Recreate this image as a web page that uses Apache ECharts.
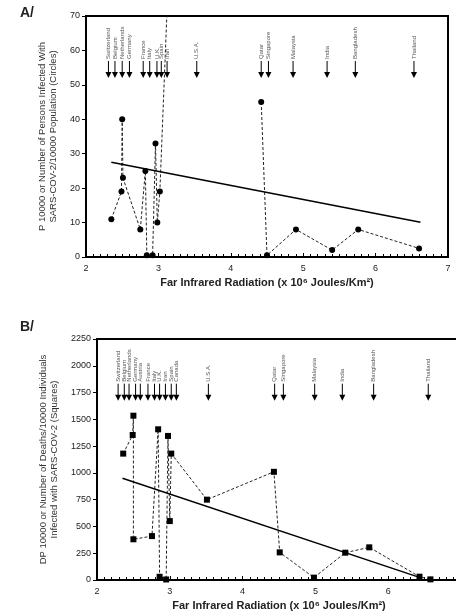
<!DOCTYPE html>
<html>
<head>
<meta charset="utf-8">
<script src="https://cdn.jsdelivr.net/npm/echarts@6/dist/echarts.min.js"></script>
<style>
  html, body { margin: 0; padding: 0; background: #fff; }
  #chart { width: 456px; height: 616px; }
</style>
</head>
<body>
<div id="chart"></div>
<script>
// panel A: persons infected per 10000 (circles)
var infectedA = [
  [2.35, 11], [2.49, 19], [2.5, 40], [2.51, 23], [2.75, 8], [2.82, 25],
  [2.84, 0.5], [2.92, 0.5], [2.96, 33], [2.985, 10], [3.02, 19], [3.12, 72],
  null,
  [4.42, 45], [4.5, 0.5], [4.9, 8], [5.4, 2], [5.76, 8], [6.6, 2.5]
]
var trendA = [[2.35, 27.5], [6.62, 10.1]]
var arrowXA = [2.31, 2.40, 2.50, 2.60, 2.79, 2.88, 2.98, 3.04, 3.12, 3.53, 4.42, 4.52, 4.86, 5.33, 5.72, 6.53]
var arrowNamesA = ['Switzerland', 'Belgium', 'Netherlands', 'Germany', 'France', 'Italy', 'U.K.', 'Spain', 'Iran',
  'U.S.A.', 'Qatar', 'Singapore', 'Malaysia', 'India', 'Bangladesh', 'Thailand']

// panel B: deaths per 10000 infected (squares)
var deathsB = [
  [2.36, 1180], [2.49, 1354], [2.5, 1534], [2.5, 380], [2.755, 410], [2.84, 1407],
  [2.86, 30], [2.95, 5], [2.975, 1345], [3.0, 550], [3.02, 1180], [3.51, 750],
  [4.43, 1010], [4.51, 258], [4.98, 22], [5.41, 255], [5.74, 305], [6.43, 31], [6.58, 6]
]
var trendB = [[2.35, 950], [6.45, 20]]
var arrowXB = [2.29, 2.375, 2.44, 2.53, 2.595, 2.70, 2.79, 2.86, 2.94, 3.02, 3.09, 3.53, 4.44, 4.56, 4.99, 5.37, 5.80, 6.55]
var arrowNamesB = ['Switzerland', 'Belgium', 'Netherlands', 'Germany', 'Austria', 'France', 'Italy', 'U.K.', 'Iran',
  'Spain', 'Canada', 'U.S.A.', 'Qatar', 'Singapore', 'Malaysia', 'India', 'Bangladesh', 'Thailand']

var yTicksA = [0, 70, 10]
var yTicksB = [0, 2250, 250]
var xTicks = [2, 7, 1]

var font = 'Liberation Sans, Arial, sans-serif'
var xName = 'Far Infrared Radiation (x 10\u2076 Joules/Km\u00b2)'

function arrowRenderer(names) {
  return function (params, api) {
    var p = api.coord([api.value(0), api.value(1)])
    return {
      type: 'group',
      children: [
        { type: 'line', shape: { x1: p[0], y1: p[1] - 17, x2: p[0], y2: p[1] - 4 }, style: { stroke: '#000', lineWidth: 1 } },
        { type: 'polygon', shape: { points: [[p[0] - 3, p[1] - 6], [p[0] + 3, p[1] - 6], [p[0], p[1]]] }, style: { fill: '#000' } },
        {
          type: 'text', x: p[0], y: p[1] - 19, rotation: Math.PI / 2,
          style: { text: names[params.dataIndex], fontSize: 6, fontFamily: font, fill: '#555', align: 'left', verticalAlign: 'middle' }
        }
      ]
    }
  }
}

function xAxisCfg(idx, gap) {
  return {
    gridIndex: idx, type: 'value', min: xTicks[0], max: xTicks[1], interval: xTicks[2],
    name: xName, nameLocation: 'middle', nameGap: gap,
    nameTextStyle: { fontSize: 11, fontWeight: 'bold', fontFamily: font, color: '#222' },
    axisLine: { lineStyle: { color: '#000', width: 2 } },
    axisTick: { inside: true, length: 4, lineStyle: { color: '#000' } },
    minorTick: { show: true, splitNumber: 10, length: 3, lineStyle: { color: '#000' } },
    axisLabel: { fontSize: 9, fontFamily: font, color: '#222', margin: 7 },
    splitLine: { show: false }
  }
}

function yAxisCfg(idx, ticks, name, gap) {
  return {
    gridIndex: idx, type: 'value', min: ticks[0], max: ticks[1], interval: ticks[2],
    name: name, nameLocation: 'middle', nameGap: gap, nameRotate: 90,
    nameTextStyle: { fontSize: 9.5, fontFamily: font, color: '#333', lineHeight: 11 },
    axisLine: { show: true, lineStyle: { color: '#000', width: 2 } },
    axisTick: { show: true, length: 4, lineStyle: { color: '#000' } },
    axisLabel: { fontSize: 9, fontFamily: font, color: '#222', margin: 6, formatter: function (v) { return String(v) } },
    splitLine: { show: false }
  }
}

var chart = echarts.init(document.getElementById('chart'))
chart.setOption({
  animation: false,
  backgroundColor: '#fff',
  graphic: [
    { type: 'text', left: 20, top: 6, style: { text: 'A/', fontSize: 14, fontWeight: 'bold', fontFamily: font, fill: '#222' } },
    { type: 'text', left: 20, top: 320, style: { text: 'B/', fontSize: 14, fontWeight: 'bold', fontFamily: font, fill: '#222' } }
  ],
  grid: [
    { left: 86, top: 16, width: 362, height: 241, show: true, borderColor: '#000', borderWidth: 2, outerBoundsMode: 'none' },
    { left: 97, top: 339, width: 364, height: 241, show: true, borderColor: '#000', borderWidth: 2, outerBoundsMode: 'none' }
  ],
  xAxis: [xAxisCfg(0, 20), xAxisCfg(1, 20)],
  yAxis: [
    yAxisCfg(0, yTicksA, 'P 10000 or Number of Persons Infected With\nSARS-COV-2/10000 Population (Circles)', 27),
    yAxisCfg(1, yTicksB, 'DP 10000 or Number of Deaths/10000 Individuals\nInfected with SARS-COV-2 (Squares)', 36)
  ],
  series: [
    {
      type: 'line', xAxisIndex: 0, yAxisIndex: 0, data: infectedA,
      symbol: 'circle', symbolSize: 6, itemStyle: { color: '#000' },
      lineStyle: { color: '#222', width: 1, type: [3, 2] }, clip: true
    },
    {
      type: 'line', xAxisIndex: 0, yAxisIndex: 0, data: trendA, symbol: 'none',
      lineStyle: { color: '#000', width: 1.5 }
    },
    {
      type: 'custom', xAxisIndex: 0, yAxisIndex: 0, coordinateSystem: 'cartesian2d',
      data: arrowXA.map(function (x) { return [x, 52] }),
      renderItem: arrowRenderer(arrowNamesA), clip: false
    },
    {
      type: 'line', xAxisIndex: 1, yAxisIndex: 1, data: deathsB,
      symbol: 'rect', symbolSize: 6, itemStyle: { color: '#000' },
      lineStyle: { color: '#222', width: 1, type: [3, 2] }
    },
    {
      type: 'line', xAxisIndex: 1, yAxisIndex: 1, data: trendB, symbol: 'none',
      lineStyle: { color: '#000', width: 1.5 }
    },
    {
      type: 'custom', xAxisIndex: 1, yAxisIndex: 1, coordinateSystem: 'cartesian2d',
      data: arrowXB.map(function (x) { return [x, 1674] }),
      renderItem: arrowRenderer(arrowNamesB), clip: false
    }
  ]
})
</script>
</body>
</html>
